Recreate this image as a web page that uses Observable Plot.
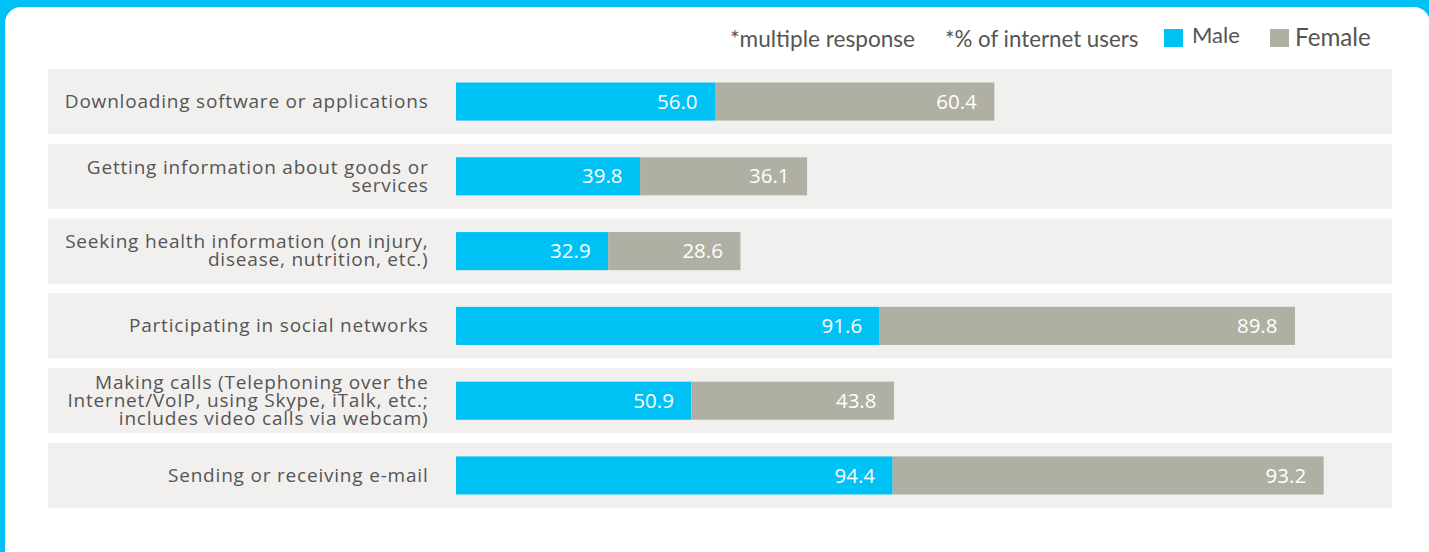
<!DOCTYPE html>
<html>
<head>
<meta charset="utf-8">
<script src="https://cdn.jsdelivr.net/npm/d3@7"></script>
<script src="https://cdn.jsdelivr.net/npm/@observablehq/plot@0.6"></script>
<style>
  html, body { margin: 0; padding: 0; }
  body { width: 1429px; height: 552px; background: #00c1f3; position: relative; overflow: hidden; font-family: "Open Sans", sans-serif; }
  #card { position: absolute; left: 5px; top: 7px; width: 1425px; height: 560px; background: #fff; border-radius: 16px; }
  .lg { position: absolute; font-family: "Lato", sans-serif; color: #555; white-space: nowrap; line-height: 1; }
  .sw { position: absolute; width: 19px; height: 18px; }
  #chart { position: absolute; left: 0; top: 60px; }
</style>
</head>
<body>
<div id="card"></div>
<div class="lg" style="left:730px; top:28px; font-size:22.6px;">*multiple response</div>
<div class="lg" style="left:945px; top:28px; font-size:22.3px;">*% of internet users</div>
<div class="sw" style="left:1164px; top:29px; background:#00c1f3;"></div>
<div class="lg" style="left:1192px; top:24px; font-size:22px;">Male</div>
<div class="sw" style="left:1270px; top:29px; background:#b0afa3;"></div>
<div class="lg" style="left:1295px; top:25px; font-size:24.2px;">Female</div>
<div id="chart"></div>
<script>
const categories = [
  "Downloading software or applications",
  "Getting information about goods or\nservices",
  "Seeking health information (on injury,\ndisease, nutrition, etc.)",
  "Participating in social networks",
  "Making calls (Telephoning over the\nInternet/VoIP, using Skype, iTalk, etc.;\nincludes video calls via webcam)",
  "Sending or receiving e-mail"
];
const male = [56.0, 39.8, 32.9, 91.6, 50.9, 94.4];
const female = [60.4, 36.1, 28.6, 89.8, 43.8, 93.2];
const series = ["Male", "Female"];
const colors = ["#00c1f3", "#b0afa3"];

const rows = [];
categories.forEach((c, i) => {
  rows.push({cat: c, sex: series[0], value: male[i]});
  rows.push({cat: c, sex: series[1], value: female[i]});
});

const chart = Plot.plot({
  width: 1429,
  height: 460,
  marginLeft: 48,
  marginRight: 37,
  marginTop: 9,
  marginBottom: 12,
  x: {domain: [0, 200], range: [456, 1381], axis: null},
  y: {domain: categories, paddingInner: 0.13, paddingOuter: 0, round: false, axis: null},
  color: {domain: series, range: colors},
  style: {fontFamily: "Open Sans", background: "transparent"},
  marks: [
    Plot.cell(categories, {y: d => d, fill: "#f1f0ee"}),
    Plot.barX(rows, Plot.stackX({x: "value", y: "cat", fill: "sex", insetTop: 13.5, insetBottom: 13.5, order: null})),
    Plot.text(rows, Plot.stackX2({x: "value", y: "cat", z: "sex", order: null, text: d => d.value.toFixed(1), textAnchor: "end", dx: -18, fill: "white", fontSize: 20.5})),
    Plot.text(categories, {x: () => 0, y: d => d, text: d => d, textAnchor: "end", dx: -28, fill: "#555", fontSize: 19, lineHeight: 0.95, lineAnchor: "middle"})
  ]
});
chart.querySelectorAll("g[aria-label=text]:last-of-type text").forEach(t => t.setAttribute("letter-spacing", "0.8"));
document.getElementById("chart").appendChild(chart);
</script>
</body>
</html>
